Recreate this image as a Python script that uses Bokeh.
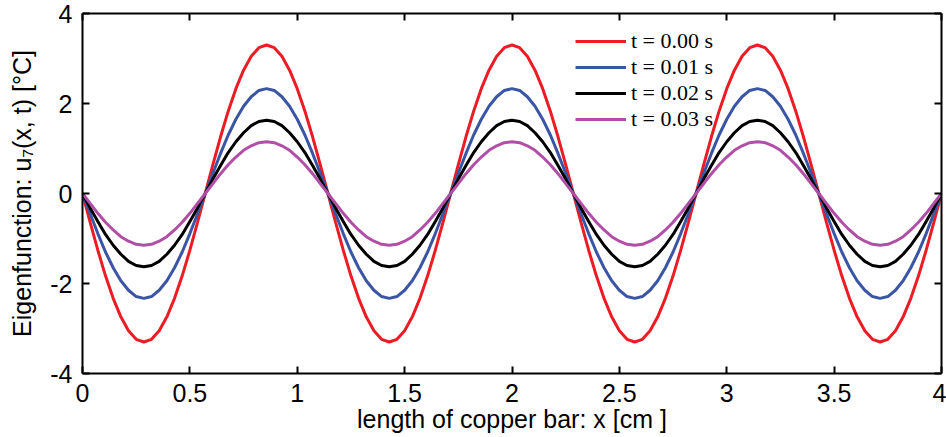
from bokeh.plotting import figure
from bokeh.models import LinearAxis, FixedTicker, Legend, LegendItem, Range1d, CustomJSTickFormatter
from bokeh.embed import file_html
from bokeh.resources import INLINE

# ---- data ----
x_cm = [
    0.0, 0.0357, 0.0714, 0.1071, 0.1429, 0.1786, 0.2143, 0.25, 0.2857, 0.3214, 0.3571, 0.3929, 0.4286, 0.4643,
    0.5, 0.5357, 0.5714, 0.6071, 0.6429, 0.6786, 0.7143, 0.75, 0.7857, 0.8214, 0.8571, 0.8929, 0.9286, 0.9643,
    1.0, 1.0357, 1.0714, 1.1071, 1.1429, 1.1786, 1.2143, 1.25, 1.2857, 1.3214, 1.3571, 1.3929, 1.4286, 1.4643,
    1.5, 1.5357, 1.5714, 1.6071, 1.6429, 1.6786, 1.7143, 1.75, 1.7857, 1.8214, 1.8571, 1.8929, 1.9286, 1.9643,
    2.0, 2.0357, 2.0714, 2.1071, 2.1429, 2.1786, 2.2143, 2.25, 2.2857, 2.3214, 2.3571, 2.3929, 2.4286, 2.4643,
    2.5, 2.5357, 2.5714, 2.6071, 2.6429, 2.6786, 2.7143, 2.75, 2.7857, 2.8214, 2.8571, 2.8929, 2.9286, 2.9643,
    3.0, 3.0357, 3.0714, 3.1071, 3.1429, 3.1786, 3.2143, 3.25, 3.2857, 3.3214, 3.3571, 3.3929, 3.4286, 3.4643,
    3.5, 3.5357, 3.5714, 3.6071, 3.6429, 3.6786, 3.7143, 3.75, 3.7857, 3.8214, 3.8571, 3.8929, 3.9286, 3.9643,
    4.0,
]

u_t000 = [
    0.0,
    -0.64, -1.26, -1.83, -2.33, -2.74, -3.05, -3.24, -3.30, -3.24, -3.05, -2.74, -2.33, -1.83, -1.26, -0.64, 0.0,
    0.64, 1.26, 1.83, 2.33, 2.74, 3.05, 3.24, 3.30, 3.24, 3.05, 2.74, 2.33, 1.83, 1.26, 0.64, 0.0,
    -0.64, -1.26, -1.83, -2.33, -2.74, -3.05, -3.24, -3.30, -3.24, -3.05, -2.74, -2.33, -1.83, -1.26, -0.64, 0.0,
    0.64, 1.26, 1.83, 2.33, 2.74, 3.05, 3.24, 3.30, 3.24, 3.05, 2.74, 2.33, 1.83, 1.26, 0.64, 0.0,
    -0.64, -1.26, -1.83, -2.33, -2.74, -3.05, -3.24, -3.30, -3.24, -3.05, -2.74, -2.33, -1.83, -1.26, -0.64, 0.0,
    0.64, 1.26, 1.83, 2.33, 2.74, 3.05, 3.24, 3.30, 3.24, 3.05, 2.74, 2.33, 1.83, 1.26, 0.64, 0.0,
    -0.64, -1.26, -1.83, -2.33, -2.74, -3.05, -3.24, -3.30, -3.24, -3.05, -2.74, -2.33, -1.83, -1.26, -0.64, 0.0,
]

u_t001 = [
    0.0,
    -0.45, -0.89, -1.30, -1.65, -1.94, -2.15, -2.29, -2.33, -2.29, -2.15, -1.94, -1.65, -1.30, -0.89, -0.45, 0.0,
    0.45, 0.89, 1.30, 1.65, 1.94, 2.15, 2.29, 2.33, 2.29, 2.15, 1.94, 1.65, 1.30, 0.89, 0.45, 0.0,
    -0.45, -0.89, -1.30, -1.65, -1.94, -2.15, -2.29, -2.33, -2.29, -2.15, -1.94, -1.65, -1.30, -0.89, -0.45, 0.0,
    0.45, 0.89, 1.30, 1.65, 1.94, 2.15, 2.29, 2.33, 2.29, 2.15, 1.94, 1.65, 1.30, 0.89, 0.45, 0.0,
    -0.45, -0.89, -1.30, -1.65, -1.94, -2.15, -2.29, -2.33, -2.29, -2.15, -1.94, -1.65, -1.30, -0.89, -0.45, 0.0,
    0.45, 0.89, 1.30, 1.65, 1.94, 2.15, 2.29, 2.33, 2.29, 2.15, 1.94, 1.65, 1.30, 0.89, 0.45, 0.0,
    -0.45, -0.89, -1.30, -1.65, -1.94, -2.15, -2.29, -2.33, -2.29, -2.15, -1.94, -1.65, -1.30, -0.89, -0.45, 0.0,
]

u_t002 = [
    0.0,
    -0.32, -0.62, -0.91, -1.15, -1.35, -1.51, -1.60, -1.63, -1.60, -1.51, -1.35, -1.15, -0.91, -0.62, -0.32, 0.0,
    0.32, 0.62, 0.91, 1.15, 1.35, 1.51, 1.60, 1.63, 1.60, 1.51, 1.35, 1.15, 0.91, 0.62, 0.32, 0.0,
    -0.32, -0.62, -0.91, -1.15, -1.35, -1.51, -1.60, -1.63, -1.60, -1.51, -1.35, -1.15, -0.91, -0.62, -0.32, 0.0,
    0.32, 0.62, 0.91, 1.15, 1.35, 1.51, 1.60, 1.63, 1.60, 1.51, 1.35, 1.15, 0.91, 0.62, 0.32, 0.0,
    -0.32, -0.62, -0.91, -1.15, -1.35, -1.51, -1.60, -1.63, -1.60, -1.51, -1.35, -1.15, -0.91, -0.62, -0.32, 0.0,
    0.32, 0.62, 0.91, 1.15, 1.35, 1.51, 1.60, 1.63, 1.60, 1.51, 1.35, 1.15, 0.91, 0.62, 0.32, 0.0,
    -0.32, -0.62, -0.91, -1.15, -1.35, -1.51, -1.60, -1.63, -1.60, -1.51, -1.35, -1.15, -0.91, -0.62, -0.32, 0.0,
]

u_t003 = [
    0.0,
    -0.22, -0.44, -0.64, -0.81, -0.96, -1.06, -1.13, -1.15, -1.13, -1.06, -0.96, -0.81, -0.64, -0.44, -0.22, 0.0,
    0.22, 0.44, 0.64, 0.81, 0.96, 1.06, 1.13, 1.15, 1.13, 1.06, 0.96, 0.81, 0.64, 0.44, 0.22, 0.0,
    -0.22, -0.44, -0.64, -0.81, -0.96, -1.06, -1.13, -1.15, -1.13, -1.06, -0.96, -0.81, -0.64, -0.44, -0.22, 0.0,
    0.22, 0.44, 0.64, 0.81, 0.96, 1.06, 1.13, 1.15, 1.13, 1.06, 0.96, 0.81, 0.64, 0.44, 0.22, 0.0,
    -0.22, -0.44, -0.64, -0.81, -0.96, -1.06, -1.13, -1.15, -1.13, -1.06, -0.96, -0.81, -0.64, -0.44, -0.22, 0.0,
    0.22, 0.44, 0.64, 0.81, 0.96, 1.06, 1.13, 1.15, 1.13, 1.06, 0.96, 0.81, 0.64, 0.44, 0.22, 0.0,
    -0.22, -0.44, -0.64, -0.81, -0.96, -1.06, -1.13, -1.15, -1.13, -1.06, -0.96, -0.81, -0.64, -0.44, -0.22, 0.0,
]

series_labels = ["t = 0.00 s", "t = 0.01 s", "t = 0.02 s", "t = 0.03 s"]
series_values = [u_t000, u_t001, u_t002, u_t003]
series_colors = ["#EC1C24", "#3A55A4", "#000000", "#B14FA6"]

x_ticks = [0, 0.5, 1, 1.5, 2, 2.5, 3, 3.5, 4]
x_tick_labels = ["0", "0.5", "1", "1.5", "2", "2.5", "3", "3.5", "4"]
y_ticks = [-4, -2, 0, 2, 4]
y_tick_labels = ["-4", "-2", "0", "2", "4"]

x_title = "length of copper bar: x [cm ]"
y_title = "Eigenfunction: u\u2087(x, t) [\u00b0C]"

FONT = "Liberation Sans"

p = figure(width=946, height=437, output_backend="svg", toolbar_location=None,
           x_range=Range1d(0, 4), y_range=Range1d(-4, 4),
           min_border_left=82, min_border_right=5, min_border_top=13, min_border_bottom=64,
           x_axis_location=None, y_axis_location=None)
p.grid.visible = False
p.outline_line_color = None
p.background_fill_color = "white"
p.border_fill_color = "white"


def style_axis(ax, ticks, labels, show_labels):
    ax.ticker = FixedTicker(ticks=ticks)
    ax.minor_tick_line_color = None
    ax.major_tick_in = 7
    ax.major_tick_out = 0
    ax.major_tick_line_width = 2
    ax.major_tick_line_color = "black"
    ax.axis_line_width = 2
    ax.axis_line_color = "black"
    ax.major_label_text_font = FONT
    ax.major_label_text_color = "black"
    ax.axis_label_text_color = "black"
    if show_labels:
        ax.major_label_overrides = {t: l for t, l in zip(ticks, labels)}
        ax.major_label_text_font_size = "25px"
        ax.major_label_standoff = 10
    else:
        ax.formatter = CustomJSTickFormatter(code="return ''")
        ax.major_label_text_font_size = "1px"
        ax.major_label_standoff = 0


xb = LinearAxis(axis_label=x_title)
style_axis(xb, x_ticks, x_tick_labels, True)
xb.axis_label_text_font = FONT
xb.axis_label_text_font_size = "25px"
xb.axis_label_text_font_style = "normal"
xb.axis_label_standoff = 0
p.add_layout(xb, "below")

yl = LinearAxis(axis_label=y_title)
style_axis(yl, y_ticks, y_tick_labels, True)
yl.axis_label_text_font = FONT
yl.axis_label_text_font_size = "25px"
yl.axis_label_text_font_style = "normal"
yl.axis_label_standoff = 11
p.add_layout(yl, "left")

xt = LinearAxis()
style_axis(xt, x_ticks, x_tick_labels, False)
p.add_layout(xt, "above")

yr = LinearAxis()
style_axis(yr, y_ticks, y_tick_labels, False)
p.add_layout(yr, "right")

items = []
for lab, vals, col in zip(series_labels, series_values, series_colors):
    r = p.line(x_cm, vals, line_color=col, line_width=3)
    items.append(LegendItem(label=lab, renderers=[r]))

legend = Legend(items=items, location=(483, 231), border_line_alpha=0,
                background_fill_alpha=0,
                label_text_font="Liberation Serif", label_text_font_size="22px",
                label_text_color="black",
                glyph_width=51, glyph_height=24, label_height=24, spacing=0,
                padding=10, margin=0, label_standoff=5)
p.add_layout(legend)

open("out.html", "w").write(file_html(p, INLINE))
